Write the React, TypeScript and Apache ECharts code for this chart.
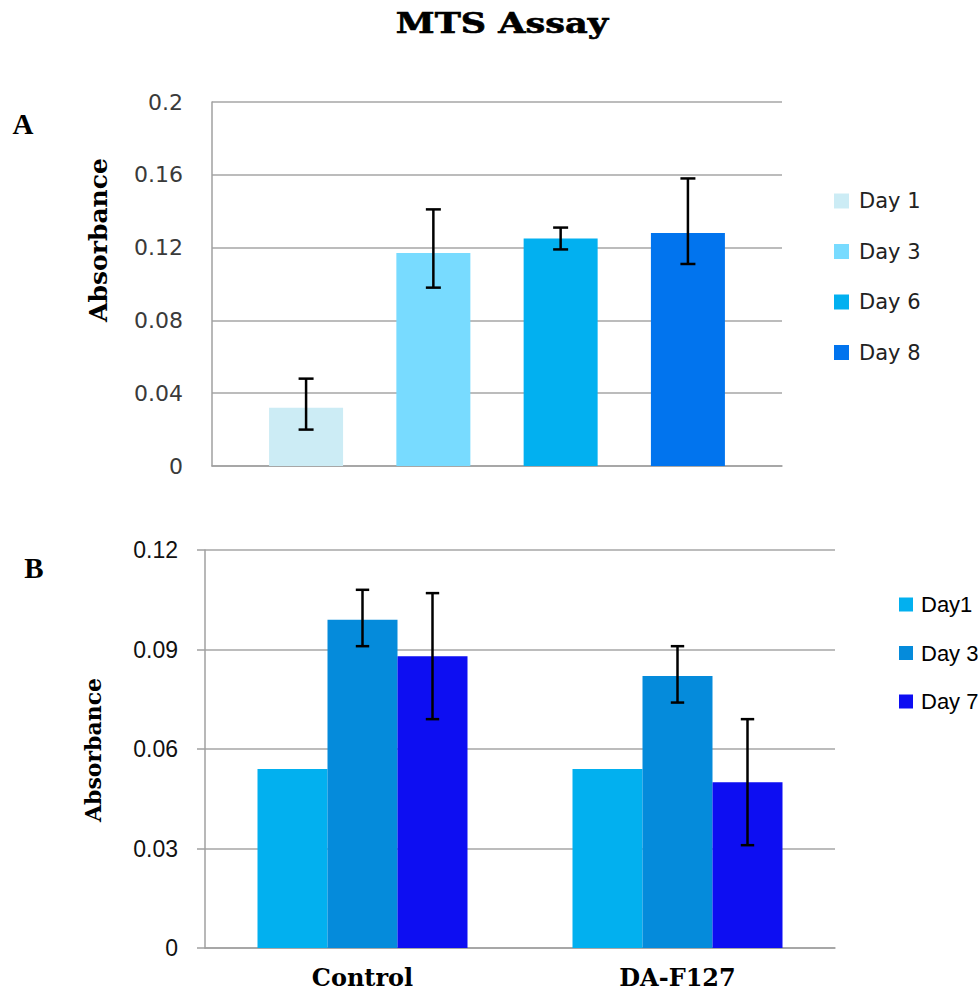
import React, { useEffect, useRef } from 'react';
import * as echarts from 'echarts';

// ---- Panel A data ----
const aSeriesNames = ['Day 1', 'Day 3', 'Day 6', 'Day 8'];
const aMeans = [0.032, 0.117, 0.125, 0.128];
const aErrLow = [0.020, 0.098, 0.119, 0.111];
const aErrHigh = [0.048, 0.141, 0.131, 0.158];
const aColors = ['#CCECF5', '#78DBFF', '#02B0F0', '#0174EE'];

// ---- Panel B data ----
const bCategories = ['Control', 'DA-F127'];
const bSeriesNames = ['Day1', 'Day 3', 'Day 7'];
const bDay1 = [0.054, 0.054];
const bDay3 = [0.099, 0.082];
const bDay7 = [0.088, 0.050];
const bDay3Low = [0.091, 0.074];
const bDay3High = [0.108, 0.091];
const bDay7Low = [0.069, 0.031];
const bDay7High = [0.107, 0.069];
const bColors = ['#02B0EF', '#058BDB', '#0D0EF2'];

const A_BAR_W = 74;
const A_BAR_GAP = 0.72;
const B_BAR_W = 70;

const GRID_COLOR = '#A6A6A6';
const AXIS_COLOR = '#A0A0A0';

function errorRenderer(offset: (slot: number) => number, capHalf: number) {
  return (params: any, api: any) => {
    const cat = api.value(0);
    const lo = api.coord([cat, api.value(1)]);
    const hi = api.coord([cat, api.value(2)]);
    const x = lo[0] + offset(api.value(3));
    const style = { stroke: '#000', lineWidth: 2.5 };
    return {
      type: 'group',
      children: [
        { type: 'line', shape: { x1: x, y1: hi[1], x2: x, y2: lo[1] }, style },
        { type: 'line', shape: { x1: x - capHalf, y1: hi[1], x2: x + capHalf, y2: hi[1] }, style },
        { type: 'line', shape: { x1: x - capHalf, y1: lo[1], x2: x + capHalf, y2: lo[1] }, style },
      ],
    };
  };
}

export default function App() {
  const ref = useRef<HTMLDivElement>(null);
  useEffect(() => {
    if (!ref.current) return;
    const chart = echarts.init(ref.current, undefined, { renderer: 'svg' });

    const aBars = aSeriesNames.map((name, i) => ({
      name,
      type: 'bar',
      xAxisIndex: 0,
      yAxisIndex: 0,
      barWidth: A_BAR_W,
      barGap: `${A_BAR_GAP * 100}%`,
      itemStyle: { color: aColors[i] },
      data: [aMeans[i]],
    }));

    const bVals = [bDay1, bDay3, bDay7];
    const bBars = bSeriesNames.map((name, i) => ({
      name,
      type: 'bar',
      xAxisIndex: 1,
      yAxisIndex: 1,
      barWidth: B_BAR_W,
      barGap: '0%',
      itemStyle: { color: bColors[i] },
      data: bVals[i],
    }));

    const aErrData = aMeans.map((_, i) => [0, aErrLow[i], aErrHigh[i], i]);
    const bErrData = [
      ...bCategories.map((_, c) => [c, bDay3Low[c], bDay3High[c], 1]),
      ...bCategories.map((_, c) => [c, bDay7Low[c], bDay7High[c], 2]),
    ];

    const aStep = A_BAR_W * (1 + A_BAR_GAP);

    chart.setOption({
      animation: false,
      backgroundColor: '#fff',
      grid: [
        { left: 212, top: 102, width: 570, height: 364 },
        { left: 205, top: 550, width: 630, height: 398 },
      ],
      xAxis: [
        {
          type: 'category',
          gridIndex: 0,
          data: [''],
          axisLine: { lineStyle: { color: AXIS_COLOR, width: 1.5 } },
          axisTick: { show: false },
          axisLabel: { show: false },
        },
        {
          type: 'category',
          gridIndex: 1,
          data: bCategories,
          axisLine: { lineStyle: { color: AXIS_COLOR, width: 1.5 } },
          axisTick: { show: false },
          axisLabel: {
            margin: 17,
            fontFamily: 'DejaVu Serif',
            fontWeight: 'bold',
            fontSize: 24,
            color: '#000',
          },
        },
      ],
      yAxis: [
        {
          type: 'value',
          gridIndex: 0,
          min: 0,
          max: 0.2,
          interval: 0.04,
          axisLine: { show: true, lineStyle: { color: AXIS_COLOR, width: 1.5 } },
          axisTick: { show: false },
          splitLine: { lineStyle: { color: GRID_COLOR, width: 1.5 } },
          axisLabel: {
            margin: 29,
            fontFamily: 'DejaVu Sans',
            fontSize: 22,
            color: '#3a3a3a',
          },
        },
        {
          type: 'value',
          gridIndex: 1,
          min: 0,
          max: 0.12,
          interval: 0.03,
          axisLine: { show: true, lineStyle: { color: AXIS_COLOR, width: 1.5 } },
          axisTick: { show: true, inside: false, length: 8, lineStyle: { color: AXIS_COLOR, width: 1.5 } },
          splitLine: { lineStyle: { color: GRID_COLOR, width: 1.5 } },
          axisLabel: {
            margin: 27,
            fontFamily: 'Liberation Sans',
            fontSize: 23,
            color: '#111',
          },
        },
      ],
      legend: [
        {
          orient: 'vertical',
          left: 829,
          top: 185,
          itemWidth: 15,
          itemHeight: 15,
          itemGap: 28.5,
          icon: 'rect',
          data: aSeriesNames,
          textStyle: {
            fontFamily: 'DejaVu Sans',
            fontSize: 21,
            lineHeight: 22,
            color: '#222',
            padding: [0, 0, 0, 5],
          },
        },
        {
          orient: 'vertical',
          left: 894,
          top: 588,
          itemWidth: 14,
          itemHeight: 14,
          itemGap: 25.5,
          icon: 'rect',
          data: bSeriesNames.map((name, i) => ({ name, itemStyle: { color: bColors[i] } })),
          textStyle: {
            fontFamily: 'Liberation Sans',
            fontSize: 22,
            lineHeight: 23,
            color: '#000',
            padding: [0, 0, 0, 3],
          },
        },
      ],
      series: [
        ...aBars,
        ...bBars,
        {
          type: 'custom',
          xAxisIndex: 0,
          yAxisIndex: 0,
          z: 5,
          encode: { x: 0, y: [1, 2] },
          renderItem: errorRenderer((s) => (s - (aMeans.length - 1) / 2) * aStep, 7.5),
          data: aErrData,
        },
        {
          type: 'custom',
          xAxisIndex: 1,
          yAxisIndex: 1,
          z: 5,
          encode: { x: 0, y: [1, 2] },
          renderItem: errorRenderer((s) => (s - 1) * B_BAR_W, 6.7),
          data: bErrData,
        },
      ],
      graphic: [
        {
          type: 'text',
          x: 502,
          y: 24,
          scaleX: 1.3,
          style: {
            text: 'MTS Assay',
            fontFamily: 'DejaVu Serif',
            fontWeight: 'bold',
            fontSize: 27,
            fill: '#000',
            stroke: '#000',
            lineWidth: 0.6,
            align: 'center',
            verticalAlign: 'middle',
          },
        },
        {
          type: 'text',
          x: 23,
          y: 124,
          style: {
            text: 'A',
            fontFamily: 'Liberation Serif',
            fontWeight: 'bold',
            fontSize: 29,
            fill: '#000',
            align: 'center',
            verticalAlign: 'middle',
          },
        },
        {
          type: 'text',
          x: 34,
          y: 568,
          style: {
            text: 'B',
            fontFamily: 'Liberation Serif',
            fontWeight: 'bold',
            fontSize: 29,
            fill: '#000',
            align: 'center',
            verticalAlign: 'middle',
          },
        },
        {
          type: 'text',
          x: 98,
          y: 240,
          rotation: Math.PI / 2,
          style: {
            text: 'Absorbance',
            fontFamily: 'DejaVu Serif',
            fontWeight: 'bold',
            fontSize: 25,
            fill: '#000',
            align: 'center',
            verticalAlign: 'middle',
          },
        },
        {
          type: 'text',
          x: 93,
          y: 750,
          rotation: Math.PI / 2,
          style: {
            text: 'Absorbance',
            fontFamily: 'DejaVu Serif',
            fontWeight: 'bold',
            fontSize: 22,
            fill: '#000',
            align: 'center',
            verticalAlign: 'middle',
          },
        },
      ],
    });
    return () => chart.dispose();
  }, []);
  return (
    <div
      ref={ref}
      style={{ position: 'fixed', left: 0, top: 0, width: 978, height: 993 }}
    />
  );
}
